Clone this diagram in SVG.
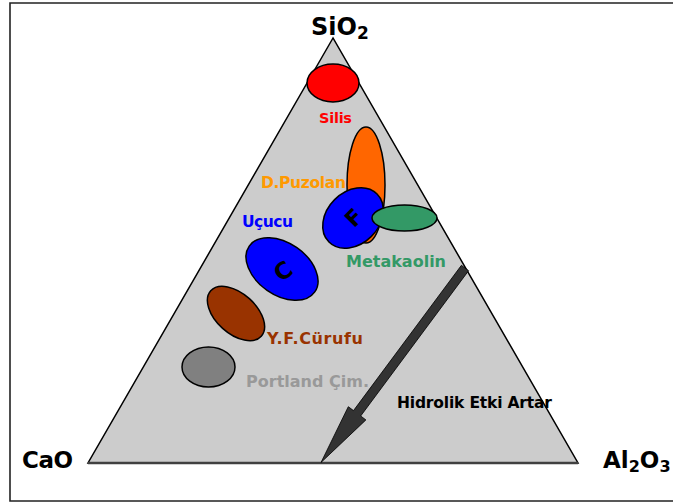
<svg xmlns="http://www.w3.org/2000/svg" width="673" height="504" viewBox="0 0 673 504">
<style>
.t{font-family:"DejaVu Sans","Verdana",sans-serif;font-weight:bold}
.e{stroke:#000;stroke-width:1.5}
</style>
<rect width="673" height="504" fill="#fff"/>
<path d="M673 3 H10 V501 H673" fill="none" stroke="#222" stroke-width="1.6"/>
<g id="triangle">
<polygon points="333,38 88,463 578,463" fill="#CCCCCC" stroke="#000" stroke-width="1.5"/>
<line x1="88" y1="463" x2="578" y2="463" stroke="#404040" stroke-width="2.5"/>
</g>
<g id="silis"><ellipse class="e" cx="333" cy="83" rx="26" ry="19" fill="#FF0000"/>
<text class="t" x="319" y="123" font-size="14.5" fill="#FF0000" textLength="33">Silis</text></g>
<g id="puzolan"><ellipse class="e" cx="366" cy="185" rx="19" ry="58" fill="#FF6600"/>
<text class="t" x="261" y="188" font-size="15.5" fill="#FF9900" textLength="85">D.Puzolan</text></g>
<g id="ucucu-f"><ellipse class="e" cx="353" cy="218" rx="34" ry="26" fill="#0000FF" transform="rotate(-45 353 218)"/>
<text class="t" x="354" y="218" font-size="22" text-anchor="middle" dominant-baseline="central" fill="#000" transform="rotate(-45 354 218)">F</text></g>
<g id="metakaolin"><ellipse class="e" cx="404.5" cy="218" rx="32.5" ry="13" fill="#339966"/>
<text class="t" x="346" y="267" font-size="16" fill="#339966" textLength="100">Metakaolin</text></g>
<g id="ucucu-c"><ellipse class="e" cx="282" cy="269" rx="40" ry="26" fill="#0000FF" transform="rotate(35 282 269)"/>
<text class="t" x="283" y="271" font-size="23" text-anchor="middle" dominant-baseline="central" fill="#000" transform="rotate(-35 283 271)">C</text>
<text class="t" x="242" y="227" font-size="15.5" fill="#0000FF" textLength="51">Uçucu</text></g>
<g id="curuf"><ellipse class="e" cx="236" cy="313.5" rx="34" ry="20" fill="#993300" transform="rotate(42 236 313.5)"/>
<text class="t" x="267" y="344" font-size="16" fill="#993300" textLength="96">Y.F.Cürufu</text></g>
<g id="portland"><ellipse class="e" cx="208.5" cy="367" rx="26.5" ry="20" fill="#808080"/>
<text class="t" x="246" y="387" font-size="16" fill="#999999" textLength="123">Portland Çim.</text></g>
<g id="connectors">
<polygon points="468.6,270.7 360.7,416.0 365.9,419.9 321,462.5 348.3,406.7 353.5,410.6 461.4,265.3" fill="#333333" stroke="#000" stroke-width="0.8" stroke-linejoin="miter"/>
</g>
<g id="arrow-label"><text class="t" x="397" y="408" font-size="15.5" fill="#000" textLength="155">Hidrolik Etki Artar</text></g>
<g id="sio2"><text class="t" x="311" y="35" font-size="24" fill="#000">SiO<tspan font-size="17" dy="4">2</tspan></text></g>
<g id="cao"><text class="t" x="22" y="468" font-size="23" fill="#000" textLength="51">CaO</text></g>
<g id="al2o3"><text class="t" x="603" y="468" font-size="23" fill="#000">Al<tspan font-size="16" dy="4">2</tspan><tspan dy="-4">O</tspan><tspan font-size="16" dy="4">3</tspan></text></g>
</svg>
